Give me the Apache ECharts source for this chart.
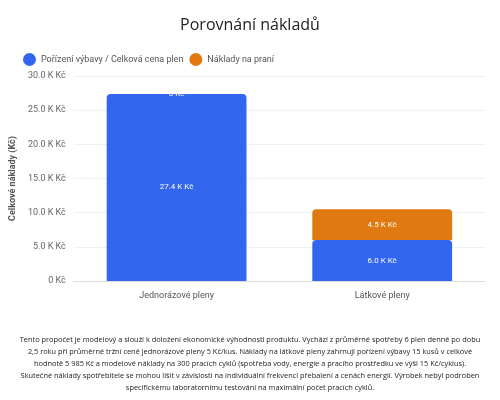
<!DOCTYPE html><html><head><meta charset="utf-8"><script src="https://cdn.jsdelivr.net/npm/echarts@6/dist/echarts.min.js"></script></head><body style="margin:0"><div id="c" style="width:500px;height:400px"></div><script>
const categories=['Jednorázové pleny','Látkové pleny'];
const purchase=[27375,5985];
const washing=[0,4500];
const yTicks=[0,5000,10000,15000,20000,25000,30000];
const note='Tento propočet je modelový a slouží k doložení ekonomické výhodnosti produktu. Vychází z průměrné spotřeby 6 plen denně po dobu\n2,5 roku při průměrné tržní ceně jednorázové pleny 5 Kč/kus. Náklady na látkové pleny zahrnují pořízení výbavy 15 kusů v celkové\nhodnotě 5 985 Kč a modelové náklady na 300 pracích cyklů (spotřeba vody, energie a pracího prostředku ve výši 15 Kč/cyklus).\nSkutečné náklady spotřebitele se mohou lišit v závislosti na individuální frekvenci přebalení a cenách energií. Výrobek nebyl podroben\nspecifickému laboratornímu testování na maximální počet pracích cyklů.';
const fmt=v=>v===0?'0 Kč':(v/1000).toFixed(1)+' K Kč';
const ch=echarts.init(document.getElementById('c'));
ch.setOption({
title:{text:'Porovnání nákladů',left:'center',top:12,textStyle:{fontFamily:'Open Sans',fontWeight:'normal',fontSize:16,color:'#222'}},
legend:{left:18,top:48,itemWidth:13,itemHeight:13,icon:'circle',itemGap:6,textStyle:{fontFamily:'Roboto',fontSize:9,color:'#555'}},
grid:{left:62,right:15,top:76,bottom:119},
xAxis:{type:'category',data:categories,axisTick:{show:false},axisLine:{lineStyle:{color:'#ddd'}},axisLabel:{fontFamily:'Roboto',fontSize:9,color:'#555',margin:10}},
yAxis:{type:'value',min:0,max:30000,interval:5000,name:'Celkové náklady (Kč)',nameLocation:'middle',nameGap:44,nameTextStyle:{fontFamily:'Roboto',fontSize:9,fontWeight:'bold',color:'#555'},axisLabel:{formatter:fmt,fontFamily:'Roboto',fontSize:9,color:'#666'},splitLine:{lineStyle:{color:'#eef0f4'}}},
series:[
{name:'Pořízení výbavy / Celková cena plen',type:'bar',stack:'a',data:purchase,barWidth:'68%',itemStyle:{color:'#3366ee',borderRadius:[4,4,0,0]},label:{show:true,position:'inside',formatter:p=>fmt(p.value),color:'#fff',fontSize:8,fontFamily:'Roboto'}},
{name:'Náklady na praní',type:'bar',stack:'a',data:washing,itemStyle:{color:'#e07a10',borderRadius:[4,4,0,0]},label:{show:true,position:'inside',formatter:p=>fmt(p.value),color:'#fff',fontSize:8,fontFamily:'Roboto'}}
],
graphic:[{type:'text',left:'center',top:334,style:{text:note,textAlign:'center',font:'7.4px "Open Sans"',fill:'#222',lineHeight:12}}]
});
</script></body></html>
